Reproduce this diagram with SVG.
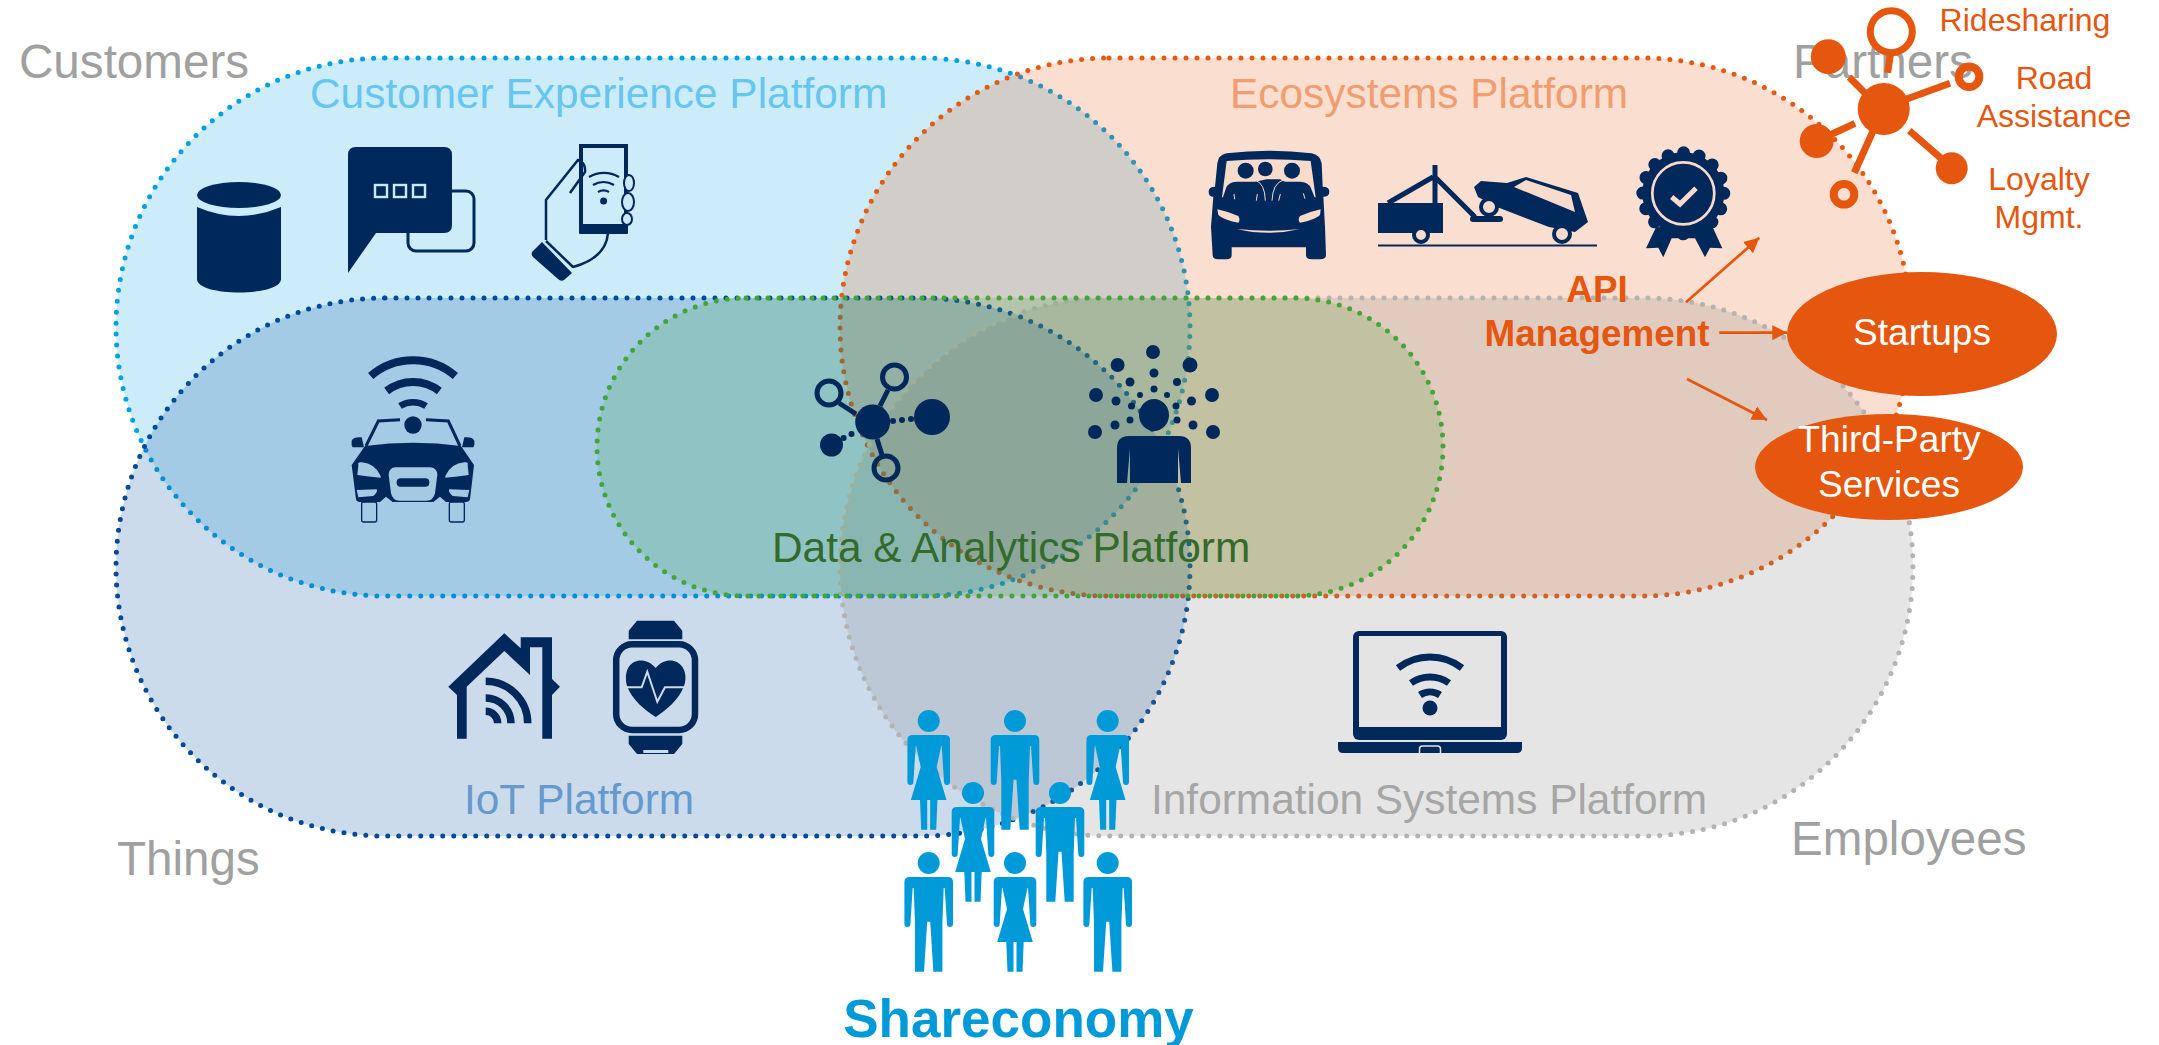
<svg xmlns="http://www.w3.org/2000/svg" xmlns:xlink="http://www.w3.org/1999/xlink" width="2159" height="1045" viewBox="0 0 2159 1045">
<style>
text{font-family:"Liberation Sans",Arial,sans-serif}
.pl{font-size:42.4px}
.cor{font-size:47.6px;fill:#a0a0a0}
.d{fill:#00285a}
.ds{fill:none;stroke:#00285a}
.o{fill:#e5560f}
.os{fill:none;stroke:#e5560f}
.ot{fill:#e5560f;font-size:32px;text-anchor:middle}
.wt{fill:#fff;font-size:37px;text-anchor:middle}
.dot{stroke-width:5;stroke-linecap:round;stroke-dasharray:0 11}
.p{fill:#009ad8}
</style>
<defs>
<marker id="ah" markerUnits="userSpaceOnUse" markerWidth="17" markerHeight="16" refX="15" refY="8" orient="auto"><path d="M0 .5L15 8L0 15.500Z" fill="#e5560f"/></marker>
<g id="man"><circle r="11" cy="0" class="p"/><path class="p" d="M-19 14H19Q24.3 14 24.3 19V61A3 3 0 0 1 18.3 61L16 25H15L13.7 60V108.7H4.7L1.5 58.7H-1.5L-4.7 108.7H-13.7V60L-15 25H-16L-18.3 61A3 3 0 0 1-24.3 61V19Q-24.3 14-19 14Z"/></g>
<g id="woman"><circle r="11" class="p"/><path class="p" d="M-16 14H16Q21.3 14 21.3 19V61A3 3 0 0 1 15.3 61L13 25H12.5L8 46L17.8 79H8.7L7.5 108.7H1.5V79H-1.5V108.7H-7.5L-8.7 79H-17.8L-8 46L-12.5 25H-13L-15.3 61A3 3 0 0 1-21.3 61V19Q-21.3 14-16 14Z"/></g>
</defs>
<rect width="2159" height="1045" fill="#fff"/>

<g id="label-customers"><text class="cor" x="19" y="78">Customers</text></g>
<g id="label-partners"><text class="cor" x="1793" y="78">Partners</text></g>
<g id="label-things"><text class="cor" x="117" y="875">Things</text></g>
<g id="label-employees"><text class="cor" x="1791" y="855">Employees</text></g>

<g id="customer-platform"><rect x="116" y="58" width="1074" height="538" rx="269" fill="#00a0e3" fill-opacity=".2" stroke="#00a0e3" class="dot"/><text class="pl" x="310" y="108" fill="#66c6ee">Customer Experience Platform</text></g>
<g id="ecosystems-platform"><rect x="840" y="58" width="1071" height="538" rx="269" fill="#e55a10" fill-opacity=".2" stroke="#e55a10" class="dot"/><text class="pl" x="1230" y="108" fill="#f09d70">Ecosystems Platform</text></g>
<g id="iot-platform"><rect x="116" y="298" width="1074" height="538" rx="269" fill="#004a99" fill-opacity=".2" stroke="#004a99" class="dot"/><text class="pl" x="464" y="814" fill="#6699cc">IoT Platform</text></g>
<g id="information-systems-platform"><rect x="840" y="298" width="1073" height="538" rx="269" fill="#7f7f7f" fill-opacity=".2" stroke="#b3b3b3" class="dot"/><text class="pl" x="1151" y="814" fill="#a6a6a6">Information Systems Platform</text></g>
<g id="data-analytics-platform"><rect x="597" y="298" width="846" height="298" rx="149" fill="#44a537" fill-opacity=".2" stroke="#44a537" class="dot"/><text class="pl" x="772" y="562" fill="#336b2b">Data &amp; Analytics Platform</text></g>

<g id="icon-database"><ellipse class="d" cx="239" cy="195" rx="42" ry="13"/><path class="d" d="M197 207Q239 225 281 207V279C281 297 197 297 197 279Z"/></g>
<g id="icon-chat"><rect x="408" y="191" width="66" height="60" rx="8" class="ds" stroke-width="3"/><path class="d" d="M356 147H444Q452 147 452 155V225Q452 233 444 233H376L348 273V155Q348 147 356 147Z"/><g fill="none" stroke="#cce9f7" stroke-width="2.4"><rect x="375" y="185" width="12" height="12"/><rect x="394" y="185" width="12" height="12"/><rect x="413" y="185" width="12" height="12"/></g></g>
<g id="icon-phone"><path class="ds" stroke-width="2.500" d="M546 240V200L578 160Q586 163 585 172L570 193M608 233Q606 258 573 267M546 241L573 267"/><path class="d" d="M532 252L542 242L572 273L564 280Q561 282 558 279L533 257Q531 255 532 252Z"/><rect x="581" y="146" width="45" height="85" class="ds" stroke-width="4"/><rect x="579" y="224" width="49" height="10" class="d" rx="1"/><g fill="#cce9f7" stroke="#00285a" stroke-width="2"><ellipse cx="629" cy="183" rx="5" ry="8"/><ellipse cx="628" cy="202" rx="6" ry="9"/><ellipse cx="627" cy="219" rx="5" ry="6"/></g><circle class="d" cx="603.600" cy="201" r="3.500"/><path class="ds" stroke-width="2.200" d="M589 177A29 29 0 0 1 619 177M593 185A20 20 0 0 1 614 185M598 192A11 11 0 0 1 609 192"/></g>

<g id="icon-van" transform="translate(1200 140) scale(.33333)"><path class="d" d="M80 40Q205 24 335 40Q360 45 365 70L368 140Q388 140 388 155Q388 170 370 170L375 260L378 345Q378 358 360 358H335Q318 358 318 345V322H95V345Q95 358 80 358H55Q38 358 38 345L33 260L40 170Q26 170 26 155Q26 140 45 140L52 70Q55 45 80 40Z"/><path fill="#f9dbcc" d="M80 63Q200 52 332 63L347 172H66Z"/><circle class="d" cx="137" cy="92" r="24"/><circle class="d" cx="196" cy="87" r="22"/><circle class="d" cx="276" cy="92" r="24"/><path class="d" d="M66 180L78 145Q85 125 110 125H165L200 118H240L255 125H300Q325 125 333 145L347 180Z"/><path fill="none" stroke="#f9dbcc" stroke-width="3" d="M165 120Q195 130 196 182M250 120Q218 130 216 182M102 162L104 178M172 162L169 182M241 162L236 182M310 160L315 176"/><path fill="#f9dbcc" d="M52 208Q85 215 115 228Q122 240 115 248Q70 240 55 225ZM362 208Q330 215 300 228Q292 240 300 248Q345 240 360 225ZM112 267Q205 277 300 267Q205 290 112 267Z"/></g>
<g id="icon-tow"><rect x="1378" y="203" width="65" height="30" class="d"/><path class="ds" stroke-width="5" d="M1435 165V203M1388 203L1433 177M1436 178L1475 217"/><rect x="1470" y="216" width="33" height="6" rx="3" class="d"/><path class="d" d="M1474 187L1481 181L1507 183L1526 177L1578 193L1588 222L1575 232L1549 227L1497 207L1478 197Z"/><path fill="#f9dbcc" d="M1514 187L1526 180L1571 195L1575 212Z"/><circle cx="1421" cy="235" r="7" fill="#f9dbcc" stroke="#00285a" stroke-width="4"/><circle cx="1489" cy="207" r="8" fill="#f9dbcc" stroke="#00285a" stroke-width="4"/><circle cx="1562" cy="234" r="8" fill="#f9dbcc" stroke="#00285a" stroke-width="4"/><rect x="1378" y="244.500" width="219" height="2" class="d"/></g>
<g id="icon-badge"><path class="d" d="M1656 227.300L1646 248.300L1658.300 247.700L1663.300 257.300L1671.700 238.300H1695L1705 257.300L1710 247.700L1722.300 248.300L1711.700 225Z"/><circle class="d" cx="1683.300" cy="193.300" r="41"/><circle cx="1683.300" cy="193.300" r="40.500" class="ds" stroke-width="13" stroke-linecap="round" stroke-dasharray="0 15.904"/><circle cx="1683.300" cy="193.300" r="31" fill="none" stroke="#f9dbcc" stroke-width="2.700"/><path d="M1671.700 197L1680 204L1696 188.300" fill="none" stroke="#f9dbcc" stroke-width="5"/></g>

<g id="icon-car" transform="translate(340 350) scale(.33333)"><path class="ds" stroke-width="24" d="M92 78A194 194 0 0 1 346 78"/><path class="ds" stroke-width="24" d="M140 123A129 129 0 0 1 298 123"/><path class="ds" stroke-width="20" d="M180 168A73 73 0 0 1 258 168"/><circle class="d" cx="219" cy="225" r="26"/><path class="ds" stroke-width="9" d="M180 209L115 213L78 288M258 209L325 213L360 288"/><path class="d" d="M35 272Q40 260 65 262L72 292H38Q33 285 35 272ZM403 272Q398 260 373 262L366 292H400Q405 285 403 272Z"/><path class="d" d="M75 288Q219 268 363 288L402 345L390 448Q388 456 378 456H318L300 440L280 456H158L138 440L120 456H60Q50 456 48 448L35 345Z"/><path fill="#a3c9e3" d="M55 345Q52 335 65 337Q105 340 122 378V383Q85 380 52 375ZM383 345Q386 335 373 337Q333 340 316 378V383Q353 380 386 375ZM50 420L110 418Q115 425 100 438L55 442ZM388 420L328 418Q323 425 338 438L383 442ZM165 352H272Q292 355 292 375L285 430Q280 452 260 452H178Q158 452 153 430L146 375Q146 355 165 352Z"/><rect x="170" y="385" width="98" height="25" rx="12" class="d"/><g class="ds" stroke-width="4"><rect x="65" y="456" width="45" height="60" rx="6"/><rect x="328" y="456" width="45" height="60" rx="6"/></g></g>

<g id="icon-network"><path class="ds" stroke-width="5" d="M856 414L839 403M880 406L888 390M877 439L882 455"/><circle class="d" cx="872.700" cy="422" r="17.500"/><circle class="ds" stroke-width="5" cx="829" cy="393" r="12"/><circle class="ds" stroke-width="5" cx="894.500" cy="377" r="12"/><circle class="ds" stroke-width="5" cx="886" cy="468" r="12"/><circle class="d" cx="932" cy="417" r="18"/><circle class="d" cx="831.500" cy="445" r="11.500"/><circle class="d" cx="893" cy="421" r="3"/><circle class="d" cx="902" cy="420" r="3"/><circle class="d" cx="911" cy="419" r="3"/><circle class="d" cx="843.600" cy="438" r="3"/><circle class="d" cx="851.500" cy="434" r="3"/></g>
<g id="icon-person"><ellipse class="d" cx="1154" cy="415" rx="15" ry="16"/><path class="d" d="M1117 483V448Q1117 436 1129 436H1179Q1191 436 1191 448V483H1181L1178 448V483H1130V448L1127 483Z"/><g class="d"><circle cx="1153" cy="352" r="7"/><circle cx="1117.600" cy="365" r="7"/><circle cx="1190" cy="365" r="7.500"/><circle cx="1154" cy="373" r="4.500"/><circle cx="1130" cy="382" r="4.500"/><circle cx="1177" cy="382" r="4"/><circle cx="1154" cy="389" r="3.500"/><circle cx="1140" cy="395" r="3"/><circle cx="1167" cy="395" r="3"/><circle cx="1096" cy="395" r="7"/><circle cx="1212" cy="395" r="7"/><circle cx="1116" cy="401" r="4.500"/><circle cx="1191.500" cy="401" r="4.500"/><circle cx="1131.500" cy="406" r="3.500"/><circle cx="1176" cy="406" r="3.500"/><circle cx="1130" cy="420" r="3.500"/><circle cx="1177" cy="420" r="3.500"/><circle cx="1115" cy="425" r="4.500"/><circle cx="1193" cy="425" r="4.500"/><circle cx="1095" cy="432" r="7"/><circle cx="1213" cy="432" r="7"/></g></g>

<g id="icon-house"><path class="d" d="M448.300 686.700L504.300 633.300L520.700 648.300V637.300H552V679L560 686.700L552 695V738.700H542.300V647.300H530V675L504.300 651L466.700 686.700V738.700H457V695Z"/><path class="ds" stroke-width="7.500" d="M485.700 711.300A12 12 0 0 1 497.700 723.300M485.700 698A25.300 25.300 0 0 1 511 723.300M485.700 681.300A42 42 0 0 1 527.700 723.300"/></g>
<g id="icon-watch"><path class="d" d="M637 620.700H674L682.300 630.700V639.300H628.700V630.700ZM628.700 735.700H682.300V744L674 754H637L628.700 744Z"/><rect x="643.300" y="750" width="25" height="3" fill="#cbdcec"/><rect x="616.200" y="644.300" width="78.800" height="85.700" rx="16" class="ds" stroke-width="6.500"/><path class="d" d="M655.700 668C649 660 640 659 634 662C625 667 625 678 627 686C632 700 645 710 655.700 717C666 710 679 700 684 686C687 678 686 667 677 662C671 659 662 660 655.700 668Z"/><path fill="none" stroke="#cbdcec" stroke-width="2" d="M626 687.300H641.700L647.300 671.700L657.300 701.700L665 687.300H685"/></g>
<g id="icon-laptop"><rect x="1353" y="631" width="154" height="109" rx="6" class="d"/><rect x="1359" y="636" width="142" height="91" fill="#e4e4e4"/><circle class="d" cx="1430" cy="708" r="7.500"/><path class="ds" stroke-width="7" d="M1398 668A52 52 0 0 1 1462 668M1411 683A33 33 0 0 1 1449 683M1420 695A18 18 0 0 1 1440 695"/><path class="d" d="M1338 742H1522V748Q1522 753 1517 753H1343Q1338 753 1338 748Z"/><path d="M1419.500 753V749Q1419.500 746 1422.500 746H1437.500Q1440.500 746 1440.500 749V753" fill="none" stroke="#e4e4e4" stroke-width="1.500"/></g>

<g id="api-management"><text x="1597" y="302" fill="#e5560f" font-size="36.800" font-weight="700" text-anchor="middle">API</text><text x="1597" y="346" fill="#e5560f" font-size="36.800" font-weight="700" text-anchor="middle">Management</text></g>
<g id="connectors"><path class="os" stroke-width="2.700" marker-end="url(#ah)" d="M1686 302.300L1759.300 237.700"/><path class="os" stroke-width="2.700" marker-end="url(#ah)" d="M1719.300 332.700H1787.300"/><path class="os" stroke-width="2.700" marker-end="url(#ah)" d="M1687 379L1767 420"/></g>
<g id="startups"><ellipse class="o" cx="1922" cy="334" rx="135" ry="62"/><text class="wt" x="1922" y="345">Startups</text></g>
<g id="third-party-services"><ellipse class="o" cx="1889" cy="467" rx="134" ry="53"/><text class="wt" x="1889" y="452">Third-Party</text><text class="wt" x="1889" y="497">Services</text></g>

<g id="partners-network"><path class="os" stroke-width="7" d="M1891 50L1887.700 72.700M1849.300 77.300L1866 94M1906 99.300L1950 83.300M1830 135L1855 123.300M1872.700 131.700L1854.300 172.700M1909.300 130.700L1943 160"/><circle class="o" cx="1883.700" cy="109" r="26"/><circle class="os" stroke-width="7" cx="1891.300" cy="31.700" r="21"/><circle class="o" cx="1828.300" cy="56.700" r="17.500"/><circle class="os" stroke-width="8" cx="1969" cy="76.700" r="10.300"/><circle class="o" cx="1816.700" cy="141" r="17"/><circle class="os" stroke-width="8" cx="1844" cy="194.300" r="10.300"/><circle class="o" cx="1951.700" cy="168.300" r="16"/></g>
<g id="label-ridesharing"><text class="ot" x="2025" y="31">Ridesharing</text></g>
<g id="label-road-assistance"><text class="ot" x="2054" y="89">Road</text><text class="ot" x="2054" y="127">Assistance</text></g>
<g id="label-loyalty"><text class="ot" x="2039" y="190">Loyalty</text><text class="ot" x="2039" y="228">Mgmt.</text></g>

<g id="shareconomy"><use href="#woman" x="928.700" y="721"/><use href="#man" x="1015" y="721"/><use href="#woman" x="1107.700" y="721"/><use href="#woman" x="973" y="793"/><use href="#man" x="1060" y="793"/><use href="#man" x="928.700" y="863"/><use href="#woman" x="1015" y="863"/><use href="#man" x="1107.700" y="863"/><text x="1018.500" y="1037" fill="#009ad8" font-size="53" font-weight="700" text-anchor="middle">Shareconomy</text></g>
</svg>
